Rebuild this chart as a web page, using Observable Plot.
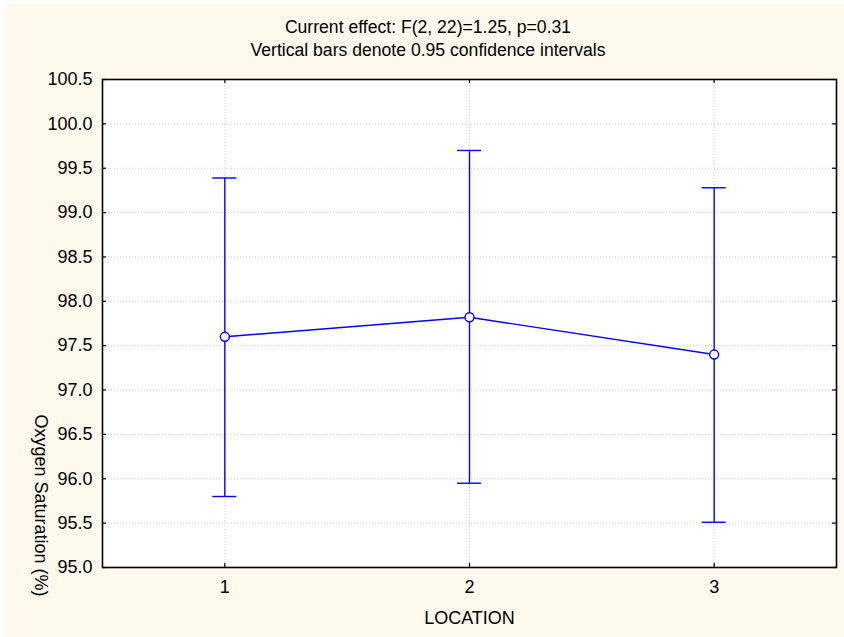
<!DOCTYPE html>
<html>
<head>
<meta charset="utf-8">
<script src="https://cdn.jsdelivr.net/npm/d3@7"></script>
<script src="https://cdn.jsdelivr.net/npm/@observablehq/plot@0.6"></script>
<style>
  html, body { margin: 0; padding: 0; background: #ffffff; }
  #wrap {
    position: absolute; left: 5px; top: 4px; width: 839px; height: 633px;
    background: #fdf9ed; font-family: Arial, "Liberation Sans", sans-serif; color: #000;
  }
  .ttl { box-sizing: border-box; height: 60px; padding-top: 12px; padding-left: 7px; text-align: center; font-size: 17.6px; line-height: 23px; }
  svg { display: block; }
</style>
</head>
<body>
<div id="wrap">
  <div class="ttl">
    <div>Current effect: F(2, 22)=1.25, p=0.31</div>
    <div>Vertical bars denote 0.95 confidence intervals</div>
  </div>
  <div id="chart"></div>
</div>
<script>
const locations = [1, 2, 3];
const means = [97.6, 97.82, 97.4];
const lower = [95.8, 95.95, 95.51];
const upper = [99.39, 99.7, 99.28];
const yTicks = [95.0, 95.5, 96.0, 96.5, 97.0, 97.5, 98.0, 98.5, 99.0, 99.5, 100.0, 100.5];
const xTicks = [1, 2, 3];
const xLabel = "LOCATION";
const yLabel = "Oxygen Saturation (%)";

const data = locations.map((loc, i) => ({loc, mean: means[i], lo: lower[i], hi: upper[i]}));
const blue = "#0000ff";
const tickLen = 4;
const W = 839, H = 573, mL = 97, mR = 8, mT = 15, mB = 70;
const fw = W - mL - mR, fh = H - mT - mB;

const chart = Plot.plot({
  width: W, height: H,
  marginLeft: mL, marginRight: mR, marginTop: mT, marginBottom: mB,
  style: {background: "transparent", fontFamily: "Arial, 'Liberation Sans', sans-serif", fontSize: "18px", color: "#000"},
  x: {domain: [0.5, 3.5]},
  y: {domain: [95, 100.5]},
  marks: [
    Plot.frame({fill: "#ffffff"}),
    Plot.gridX(xTicks, {stroke: "#c8c8c8", strokeOpacity: 1, strokeDasharray: "1,2"}),
    Plot.gridY(yTicks, {stroke: "#c8c8c8", strokeOpacity: 1, strokeDasharray: "1,2"}),
    Plot.axisX(xTicks, {tickSize: 0, tickPadding: 13, tickFormat: d => String(d), label: null, fontSize: 18}),
    Plot.axisY(yTicks, {tickSize: 0, tickPadding: 10, tickFormat: d3.format(".1f"), label: null, fontSize: 18}),
    // inward ticks on all four sides
    Plot.tickX(xTicks, {x: d => d, insetTop: fh - tickLen, stroke: "#000", strokeWidth: 1.2}),
    Plot.tickX(xTicks, {x: d => d, insetBottom: fh - tickLen, stroke: "#000", strokeWidth: 1.2}),
    Plot.tickY(yTicks, {y: d => d, insetRight: fw - tickLen, stroke: "#000", strokeWidth: 1.2}),
    Plot.tickY(yTicks, {y: d => d, insetLeft: fw - tickLen, stroke: "#000", strokeWidth: 1.2}),
    // error bars
    Plot.ruleX(data, {x: "loc", y1: "lo", y2: "hi", stroke: blue, strokeWidth: 1.4}),
    Plot.ruleY(data, {y: "hi", x1: "loc", x2: "loc", insetLeft: -12, insetRight: -12, stroke: blue, strokeWidth: 1.4}),
    Plot.ruleY(data, {y: "lo", x1: "loc", x2: "loc", insetLeft: -12, insetRight: -12, stroke: blue, strokeWidth: 1.4}),
    Plot.line(data, {x: "loc", y: "mean", stroke: blue, strokeWidth: 1.4}),
    Plot.dot(data, {x: "loc", y: "mean", r: 4.5, fill: "#ffffff", stroke: blue, strokeWidth: 1.4}),
    Plot.frame({stroke: "#000", strokeWidth: 1.6}),
    Plot.text([xLabel], {frameAnchor: "bottom", dy: 56, fontSize: 18, fill: "#000", textAnchor: "middle"}),
    Plot.text([yLabel], {frameAnchor: "bottom-left", dx: -68, dy: -62, rotate: 90, fontSize: 18, fill: "#000", textAnchor: "middle"})
  ]
});
document.getElementById("chart").appendChild(chart);
</script>
</body>
</html>
